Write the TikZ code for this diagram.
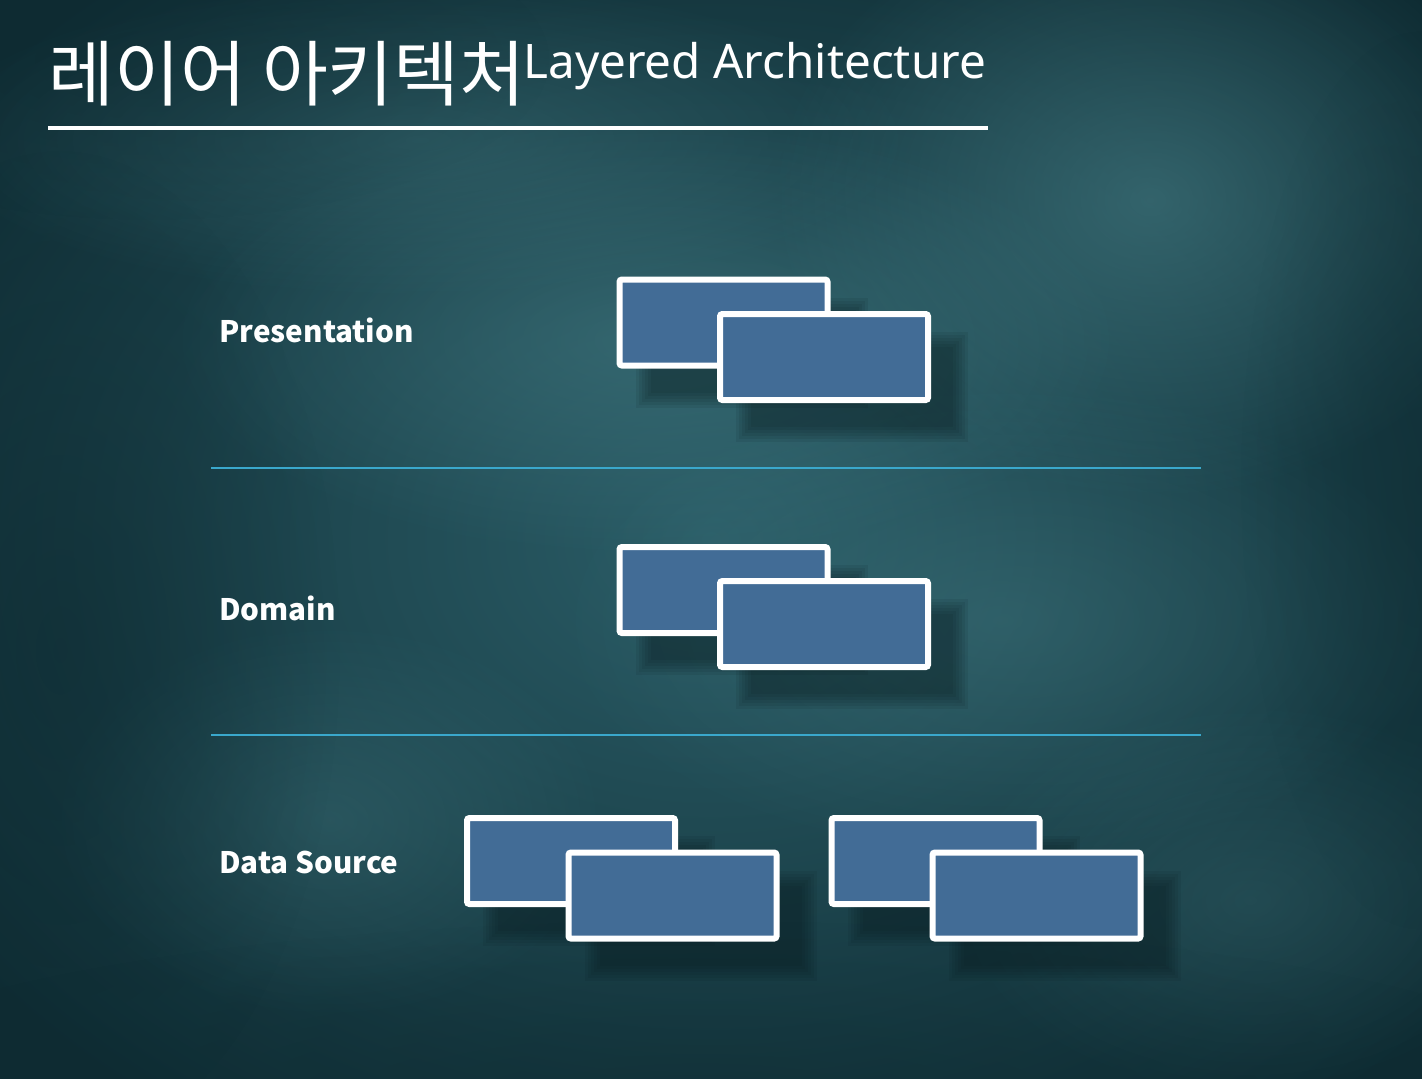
\documentclass[tikz,border=0pt]{standalone}
\usepackage{fontspec}
\newfontfamily\kr{Noto Sans CJK KR}
\newfontfamily\lat{Noto Sans}
\usetikzlibrary{fadings}
\definecolor{bgmid}{HTML}{2A5C66}
\definecolor{bgdark}{HTML}{0E2B32}
\definecolor{bglight}{HTML}{4A848C}
\definecolor{boxfill}{HTML}{426C96}
\definecolor{sepline}{HTML}{3AA8CC}
\definecolor{shadowc}{HTML}{08191D}
\tikzfading[name=softfade, inner color=transparent!0, outer color=transparent!100]
\tikzset{
  layerbox/.style={draw=white, line width=3pt, fill=boxfill, rounded corners=1.2pt,
    minimum width=104pt, minimum height=43pt, inner sep=0pt},
  boxshadow/.style={fill=shadowc, fill opacity=0.09},
  label/.style={text=white, inner sep=0pt, anchor=base west, font=\kr\bfseries\fontsize{14.8pt}{16pt}\selectfont},
  sep/.style={draw=sepline, line width=1.2pt},
  blob/.style={fill=bglight, path fading=softfade},
  darkblob/.style={fill=bgdark, path fading=softfade},
}
\begin{document}
\begin{tikzpicture}[x=0.5pt,y=-0.5pt]
\useasboundingbox (0,0) rectangle (1422,1078);
% background
\shade[inner color=bgmid, outer color=bgdark] (-250,-200) rectangle (1672,1278);
\fill[blob, fill opacity=0.55] (1150,200) ellipse (380 and 300);
\fill[blob, fill opacity=0.45] (650,340) ellipse (480 and 220);
\fill[blob, fill opacity=0.35] (420,140) ellipse (500 and 160);
\fill[blob, fill opacity=0.35] (1000,620) ellipse (450 and 240);
\fill[blob, fill opacity=0.30] (330,820) ellipse (280 and 200);
\fill[blob, fill opacity=0.25] (1250,900) ellipse (300 and 200);
\fill[darkblob, fill opacity=0.55] (60,650) ellipse (280 and 500);
\fill[darkblob, fill opacity=0.45] (700,1100) ellipse (900 and 180);
\fill[darkblob, fill opacity=0.40] (1420,480) ellipse (180 and 450);
\fill[darkblob, fill opacity=0.35] (150,60) ellipse (400 and 160);

% title
\node[text=white, inner sep=0pt, anchor=base west, font=\kr\fontsize{35.8pt}{38pt}\selectfont] (tko) at (48,100) {레이어 아키텍처};
\node[text=white, inner sep=0pt, anchor=base west, font=\lat\fontsize{23.8pt}{26pt}\selectfont] (ten) at (523,78) {Layered Architecture};
\coordinate (ul1) at (48,128);
\coordinate (ul2) at (988,128);
\draw[white, line width=2pt] (ul1) -- (ul2);

% layer labels
\node[label] (lp) at (219,342) {Presentation};
\node[label] (ld) at (219,620) {Domain};
\node[label] (ls) at (219,873) {Data Source};

% separator lines
\coordinate (s1a) at (211,468); \coordinate (s1b) at (1201,468);
\coordinate (s2a) at (211,735); \coordinate (s2b) at (1201,735);
\draw[sep] (s1a) -- (s1b);
\draw[sep] (s2a) -- (s2b);

% shadows
\foreach \cx/\cy in {723.5/322.5, 824/357, 723.5/590, 824/624, 571/861, 672.5/895.5, 935.5/861, 1036.5/895.5}{
  \foreach \g in {-6,-3,0,3,6,9}{
    \fill[boxshadow] (\cx-107+28-\g,\cy-46+30-\g) rectangle (\cx+107+28+\g,\cy+46+30+\g);
  }
}
% Presentation boxes
\node[layerbox] (p1) at (723.5,322.5) {};
\node[layerbox] (p2) at (824,357) {};
% Domain boxes
\node[layerbox] (d1) at (723.5,590) {};
\node[layerbox] (d2) at (824,624) {};
% Data source boxes
\node[layerbox] (a1) at (571,861) {};
\node[layerbox] (a2) at (672.5,895.5) {};
\node[layerbox] (b1) at (935.5,861) {};
\node[layerbox] (b2) at (1036.5,895.5) {};
\end{tikzpicture}
\end{document}
